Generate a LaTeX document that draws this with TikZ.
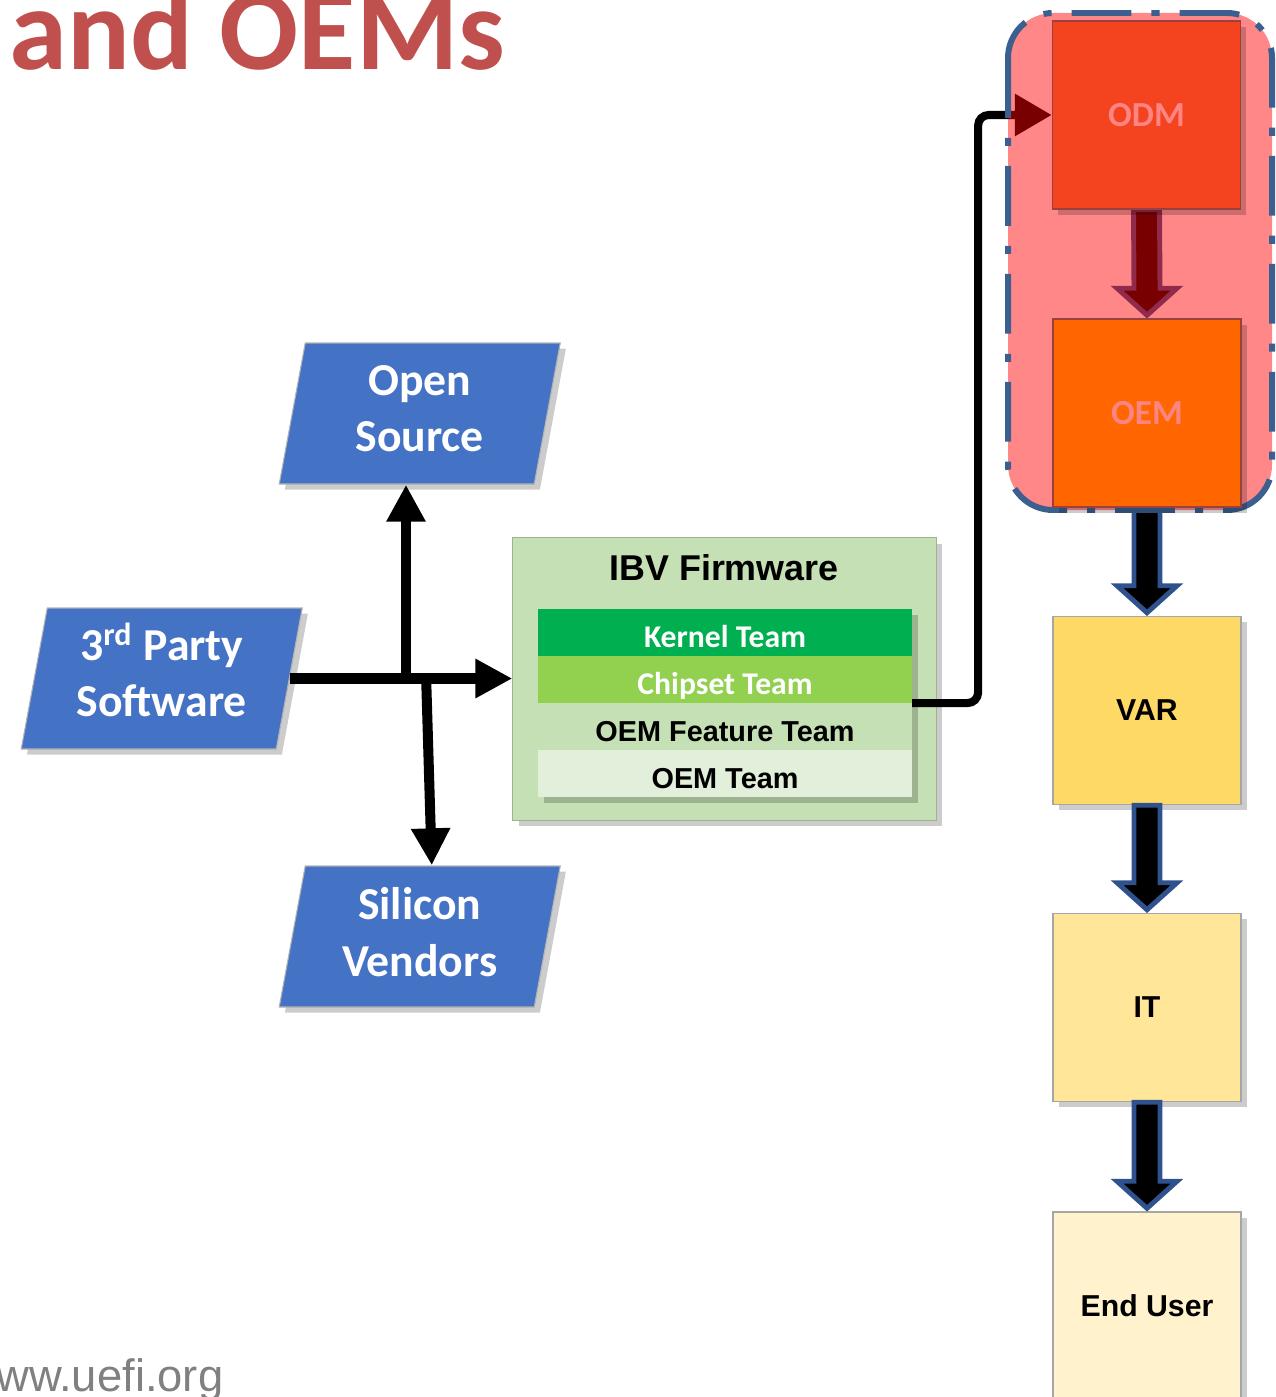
\documentclass[tikz,border=0pt]{standalone}
\usepackage{fontspec}
\setmainfont{Carlito}
\newfontfamily\arialfont{Liberation Sans}
\usetikzlibrary{calc, arrows.meta, positioning, shadows}
\definecolor{uefiBlue}{HTML}{4472C4}
\definecolor{arrowBlue}{HTML}{2F528F}
\definecolor{titleRed}{HTML}{C0504D}
\definecolor{ibvGreen}{HTML}{C5E0B4}
\definecolor{kernelGreen}{HTML}{00B050}
\definecolor{chipsetGreen}{HTML}{92D050}
\definecolor{paleGreen}{HTML}{E2EFDA}
\definecolor{odmRed}{HTML}{F4441F}
\definecolor{oemOrange}{HTML}{FF6600}
\definecolor{varYellow}{HTML}{FFD966}
\definecolor{itYellow}{HTML}{FFE699}
\definecolor{userYellow}{HTML}{FFF2CC}
\definecolor{pinkText}{HTML}{FF8585}
\definecolor{zoneBlue}{HTML}{3B5F8F}
\pgfdeclarelayer{veil}
\pgfdeclarelayer{front}
\pgfsetlayers{main,veil,front}
\tikzset{
  soft shadow/.style={drop shadow={shadow xshift=1.6pt, shadow yshift=-1.6pt, opacity=.2, fill=black}},
  para shape/.style={fill=uefiBlue, draw=gray!60, line width=0.3pt, soft shadow},
  para text/.style={text=white, align=center, font=\fontsize{13}{16}\selectfont\bfseries,
    minimum width=2.55cm, minimum height=1.41cm, inner sep=0pt},
  flow box/.style={draw=gray!70, line width=0.4pt, minimum width=1.88cm, minimum height=1.88cm,
    inner sep=0pt, soft shadow, font=\arialfont\fontsize{8.6}{10}\selectfont\bfseries},
  zone box/.style={draw=titleRed!80!black, line width=0.4pt, minimum width=1.88cm, minimum height=1.88cm,
    inner sep=0pt, soft shadow, text=pinkText, font=\fontsize{10}{12}\selectfont\bfseries},
  team row/.style={minimum width=3.74cm, minimum height=0.47cm, inner sep=0pt, outer sep=0pt,
    text height=8.5pt, text depth=0pt, soft shadow},
  white row/.style={team row, text=white, font=\fontsize{9}{11}\selectfont\bfseries},
  black row/.style={team row, font=\arialfont\fontsize{8.2}{10}\selectfont\bfseries},
  main arrow/.style={line width=2.85pt, -{Triangle[length=10.5pt,width=10.5pt]}},
  feed line/.style={line width=2.3pt, rounded corners=3pt, -{Triangle[length=10.5pt,width=11.5pt]}},
  block arrow/.style={fill=black, draw=arrowBlue, line width=1.4pt, line join=miter},
  zone line/.style={draw=zoneBlue, line width=1.7pt, rounded corners=0.45cm,
    dash pattern=on 17pt off 5.7pt on 2.3pt off 5.7pt},
  >=Stealth,
}
% parallelogram: name, centre, text (text sits a little above the middle)
\newcommand{\paraBox}[3]{
  \coordinate (#1-c) at (#2);
  \filldraw[para shape] ($(#1-c)+(-114.5,-70.5)$) -- ($(#1-c)+(140.5,-70.5)$)
    -- ($(#1-c)+(114.5,70.5)$) -- ($(#1-c)+(-140.5,70.5)$) -- cycle;
  \node[para text] (#1) at ($(#1-c)+(0,-4.5)$) {#3};
}
% block arrow between two stacked boxes
\newcommand{\flowArrow}[2]{
  \draw[block arrow] ($(#1.south)+(-13,0)$) -- ($(#2.north)+(-13,-30)$) -- ($(#2.north)+(-30,-30)$)
    -- ($(#2.north)+(0,-3)$) -- ($(#2.north)+(30,-30)$) -- ($(#2.north)+(13,-30)$)
    -- ($(#1.south)+(13,0)$) -- cycle;
}

\begin{document}
\begin{tikzpicture}[x=0.01cm, y=-0.01cm]
  \useasboundingbox (0,0) rectangle (1275,1397);
  \node[anchor=base west, inner sep=0pt, text=titleRed, font=\fontsize{33.3}{36}\selectfont\bfseries] (title) at (9,70) {and OEMs};
  \node[anchor=base east, inner sep=0pt, text=gray, font=\arialfont\fontsize{12.9}{14}\selectfont] (url) at (224,1391) {ww.uefi.org};

  % sources
  \paraBox{opensrc}{419.75,413.5}{Open\\Source}
  \paraBox{thirdparty}{161.75,678.5}{3\smash{\textsuperscript{rd}} Party\\Software}
  \paraBox{silicon}{419.75,936.5}{Silicon\\Vendors}

  % IBV firmware
  \node[fill=ibvGreen, draw=ibvGreen!80!black, line width=0.3pt, minimum width=4.23cm, minimum height=2.82cm, soft shadow] (ibv) at (724.5,679) {};
  \node[font=\arialfont\fontsize{10.2}{12}\selectfont\bfseries] (ibvtitle) at (724,568) {IBV Firmware};
  \node[white row, fill=kernelGreen] (kernel) at (725,632.5) {Kernel Team};
  \node[white row, fill=chipsetGreen, below=0pt of kernel] (chipset) {Chipset Team};
  \node[black row, fill=ibvGreen, below=0pt of chipset] (oemfeat) {OEM Feature Team};
  \node[black row, fill=paleGreen, below=0pt of oemfeat] (oemteam) {OEM Team};

  \coordinate (jup) at (406,678.5);
  \coordinate (jdn) at (426,678.5);
  \draw[main arrow] (thirdparty.east |- thirdparty-c) -- (ibv.west |- thirdparty-c);
  \draw[main arrow] ($(jup)+(0,5)$) -- ($(opensrc.south -| jup)+(0,4.5)$);
  \draw[main arrow] ($(jdn)+(0,-5)$) -- ($(silicon.north)+(12,4.5)$);

  % supply chain
  \begin{pgfonlayer}{front}
    \node[zone box, fill=odmRed] (odm) at (1146.5,115) {ODM};
    \node[zone box, fill=oemOrange] (oem) at (1147,413) {OEM};
  \end{pgfonlayer}
  \node[flow box, fill=varYellow] (var) at (1147,710.5) {VAR};
  \node[flow box, fill=itYellow] (it) at (1147,1007.5) {IT};
  \node[flow box, fill=userYellow] (enduser) at (1147,1306) {End User};

  \draw[feed line] (chipset.south east) -- ++(66,0) |- (odm.west);
  \flowArrow{odm}{oem}
  \flowArrow{oem}{var}
  \flowArrow{var}{it}
  \flowArrow{it}{enduser}

  \begin{pgfonlayer}{veil}
    \fill[red, opacity=0.47, rounded corners=0.45cm] (1008,13) rectangle (1272,510);
    \draw[zone line] (1008,13) rectangle (1272,510);
  \end{pgfonlayer}
\end{tikzpicture}
\end{document}
